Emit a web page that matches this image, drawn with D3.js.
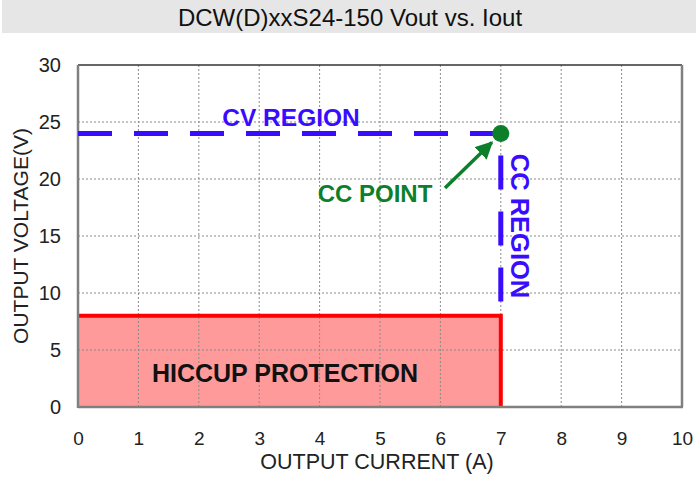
<!DOCTYPE html>
<html><head><meta charset="utf-8">
<script src="https://cdn.jsdelivr.net/npm/d3@7"></script>
<style>body{margin:0;background:#fff;} text{font-family:Arial,"Liberation Sans",sans-serif;}</style>
</head><body>
<svg id="c" width="696" height="479"></svg>
<script>
const title = "DCW(D)xxS24-150 Vout vs. Iout";
const xTicks = [0,1,2,3,4,5,6,7,8,9,10];
const yTicks = [0,5,10,15,20,25,30];
const hiccupX = [0, 7];
const hiccupV = 8;
const cvLine = [[0,24],[7,24]];
const ccLine = [[7,24],[7,8]];
const ccPoint = [7,24];
const labels = {cv:"CV REGION", cc:"CC REGION", pt:"CC POINT", hic:"HICCUP PROTECTION"};

const svg = d3.select("#c");
const x = d3.scaleLinear().domain([0,10]).range([78,682]);
const y = d3.scaleLinear().domain([0,30]).range([407,65]);

// title bar
svg.append("rect").attr("x",2).attr("y",0).attr("width",694).attr("height",33).attr("fill","#e6e6e6");
svg.append("text").attr("x",350).attr("y",26).attr("text-anchor","middle").attr("font-size",24).attr("fill","#111").text(title);

// hiccup area
svg.append("rect").attr("x",x(hiccupX[0])).attr("y",y(hiccupV)).attr("width",x(hiccupX[1])-x(hiccupX[0])).attr("height",y(0)-y(hiccupV)).attr("fill","#ff9a9a");

// grid
const g = svg.append("g");
g.selectAll("line.gx").data(xTicks.slice(1,-1)).join("line").attr("x1",d=>x(d)).attr("x2",d=>x(d)).attr("y1",y(30)).attr("y2",y(0)).attr("stroke","#8a8a8a").attr("stroke-width",1).attr("stroke-dasharray","2,2");
g.selectAll("line.gy").data(yTicks.slice(1,-1)).join("line").attr("y1",d=>y(d)).attr("y2",d=>y(d)).attr("x1",x(0)).attr("x2",x(10)).attr("stroke","#8a8a8a").attr("stroke-width",1).attr("stroke-dasharray","2,2");

// hiccup boundary
svg.append("path").attr("d",d3.line()([[x(0),y(hiccupV)],[x(hiccupX[1]),y(hiccupV)],[x(hiccupX[1]),y(0)]])).attr("fill","none").attr("stroke","#ff0000").attr("stroke-width",4);

// frame
svg.append("line").attr("x1",x(0)).attr("x2",x(10)).attr("y1",y(30)).attr("y2",y(30)).attr("stroke","#333").attr("stroke-width",1.5);
svg.append("line").attr("x1",x(10)).attr("x2",x(10)).attr("y1",y(30)).attr("y2",y(0)).attr("stroke","#808080").attr("stroke-width",2.5);
svg.append("line").attr("x1",x(0)).attr("x2",x(10)+1).attr("y1",y(0)).attr("y2",y(0)).attr("stroke","#808080").attr("stroke-width",2.5);
svg.append("line").attr("x1",x(0)).attr("x2",x(0)).attr("y1",y(30)).attr("y2",y(0)+1).attr("stroke","#808080").attr("stroke-width",2.5);

// axes labels
const xa = d3.axisBottom(x).tickValues(xTicks).tickSize(0).tickPadding(25);
const xg = svg.append("g").attr("transform",`translate(0,${y(0)})`).call(xa);
xg.select(".domain").remove();
xg.selectAll("text").attr("font-size",19).attr("fill","#222").attr("font-family","Arial, Liberation Sans, sans-serif");
const ya = d3.axisLeft(y).tickValues(yTicks).tickSize(0).tickPadding(17);
const yg = svg.append("g").attr("transform",`translate(${x(0)},0)`).call(ya);
yg.select(".domain").remove();
yg.selectAll("text").attr("font-size",20).attr("fill","#222").attr("font-family","Arial, Liberation Sans, sans-serif");

svg.append("text").attr("x",377).attr("y",469).attr("text-anchor","middle").attr("font-size",21.5).attr("fill","#222").text("OUTPUT CURRENT (A)");
svg.append("text").attr("transform","translate(28,236) rotate(-90)").attr("text-anchor","middle").attr("font-size",21).attr("fill","#222").text("OUTPUT VOLTAGE(V)");

// CV / CC lines
const blue = "#3a0cff";
svg.append("path").attr("d",d3.line().x(d=>x(d[0])).y(d=>y(d[1]))(cvLine)).attr("fill","none").attr("stroke",blue).attr("stroke-width",5).attr("stroke-dasharray","34,22");
svg.append("path").attr("d",d3.line().x(d=>x(d[0])).y(d=>y(d[1]))(ccLine)).attr("fill","none").attr("stroke",blue).attr("stroke-width",5).attr("stroke-dasharray","34,22").attr("stroke-dashoffset",34);

// CC point
const green = "#0d7f2a";
svg.append("circle").attr("cx",x(ccPoint[0])).attr("cy",y(ccPoint[1])).attr("r",8.5).attr("fill",green);
// arrow
const defs = svg.append("defs");
defs.append("marker").attr("id","ah").attr("viewBox","0 0 10 10").attr("refX",9).attr("refY",5).attr("markerWidth",5).attr("markerHeight",5).attr("orient","auto").attr("markerUnits","strokeWidth")
  .append("path").attr("d","M0,0 L10,5 L0,10 z").attr("fill",green);
svg.append("line").attr("x1",445).attr("y1",188).attr("x2",x(ccPoint[0])-9).attr("y2",y(ccPoint[1])+9).attr("stroke",green).attr("stroke-width",3.5).attr("marker-end","url(#ah)");

// text labels
svg.append("text").attr("x",291).attr("y",126).attr("text-anchor","middle").attr("font-size",24.5).attr("font-weight","bold").attr("fill",blue).text(labels.cv);
svg.append("text").attr("x",375).attr("y",202).attr("text-anchor","middle").attr("font-size",24).attr("font-weight","bold").attr("fill",green).text(labels.pt);
svg.append("text").attr("transform","translate(511,226) rotate(90)").attr("text-anchor","middle").attr("font-size",25.5).attr("font-weight","bold").attr("fill",blue).text(labels.cc);
svg.append("text").attr("x",285).attr("y",382).attr("text-anchor","middle").attr("font-size",25).attr("font-weight","bold").attr("fill","#111").text(labels.hic);
</script>
</body></html>
